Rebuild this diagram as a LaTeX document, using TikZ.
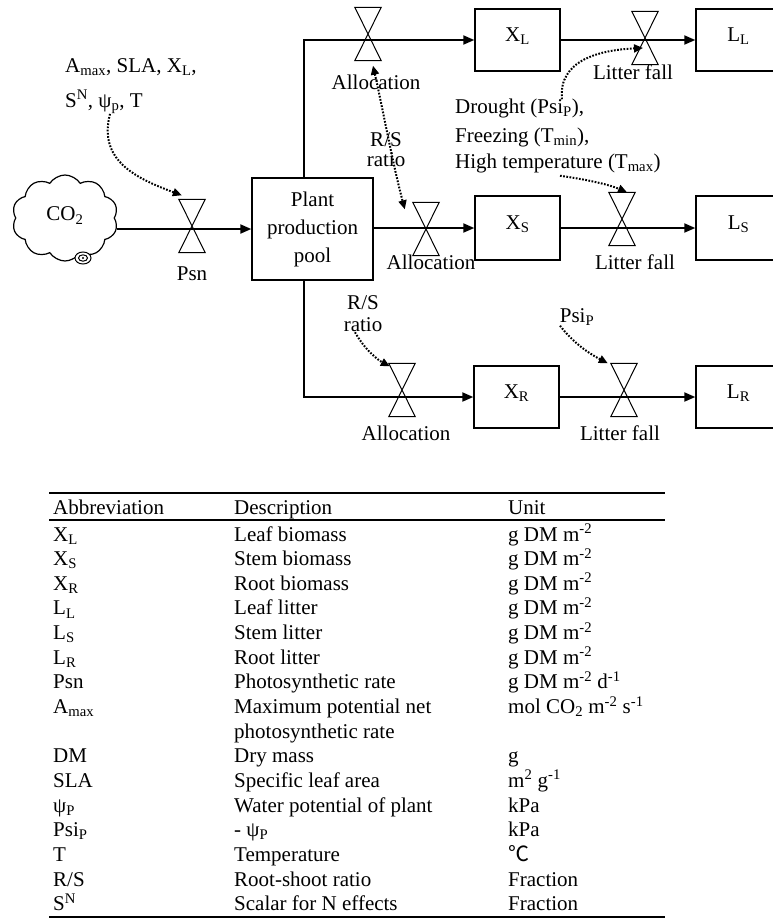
\documentclass[tikz,border=0pt]{standalone}
\usepackage{fontspec}
\setmainfont{Liberation Serif}
\newfontfamily\cjkfont{Noto Sans CJK SC}
\usetikzlibrary{arrows.meta,shapes.symbols,calc}
\begin{document}
\begin{tikzpicture}[x=1pt,y=-1pt,
  every node/.style={font=\fontsize{21}{24.65}\selectfont, inner sep=0pt},
  box/.style={draw, line width=1.4pt, minimum width=85pt, minimum height=62pt, text height=14pt, text depth=11pt},
  valvebox/.style={minimum width=26pt, minimum height=53pt},
  valveline/.style={line width=1pt},
  flow/.style={line width=2pt, -{Triangle[length=11pt,width=9pt]}},
  infl/.style={line width=2pt, dash pattern=on 1.7pt off 1.5pt, -{Triangle[length=9pt,width=8pt]}},
  thickrule/.style={line width=2.4pt},
  thinrule/.style={line width=1.4pt},
]
\useasboundingbox (0,0) rectangle (772,921);

% ---------- cloud ----------
\node[cloud, draw, line width=1.2pt, cloud puffs=10, cloud puff arc=115, aspect=1.25,
      minimum width=106pt, minimum height=86pt, text depth=8pt] (cloud) at (65,218) {CO\textsubscript{2}};
\coordinate (sp) at (83,258);
\filldraw[line width=1pt, fill=white] (sp) ellipse [x radius=8, y radius=6];
\draw[line width=1pt] (sp) ellipse [x radius=4.5, y radius=3.2];
\fill (sp) circle [radius=1.2];

% ---------- boxes ----------
\node[draw, line width=1.4pt, minimum width=121pt, minimum height=102pt, align=center,
      font=\fontsize{21}{28}\selectfont] (pool) at (312.5,229) {Plant\\production\\pool};
\node[box] (XL) at (517.5,40) {X\textsubscript{L}};
\node[box] (LL) at (738.5,40) {L\textsubscript{L}};
\node[box, minimum height=64pt] (XS) at (517.5,228) {X\textsubscript{S}};
\node[box, minimum height=64pt] (LS) at (738.5,228) {L\textsubscript{S}};
\node[box] (XR) at (516.5,397) {X\textsubscript{R}};
\node[box] (LR) at (738.5,397) {L\textsubscript{R}};

\coordinate (tl) at (304,40);
\coordinate (bl) at (304,397);

% ---------- flows ----------
\draw[flow] (cloud.-12) -- (pool.west |- cloud.-12);
\draw[flow] (pool.north -| tl) -- (tl) -- (XL.west);
\draw[flow] (pool.east |- XS.west) -- (XS.west);
\draw[flow] (pool.south -| bl) -- (bl) -- (XR.west);
\draw[flow] (XL.east) -- (LL.west);
\draw[flow] (XS.east) -- (LS.west);
\draw[flow] (XR.east) -- (LR.west);

% ---------- valves ----------
\node[valvebox] (vPsn) at (192,226) {};
\node[valvebox] (vAL) at (368,34) {};
\node[valvebox] (vLL) at (645,38) {};
\node[valvebox] (vAS) at (426,229) {};
\node[valvebox] (vLS) at (622,219) {};
\node[valvebox] (vAR) at (402,390) {};
\node[valvebox] (vLR) at (624,390) {};
\foreach \v in {vPsn,vAL,vLL,vAS,vLS,vAR,vLR}
  \draw[valveline] (\v.north west) -- (\v.north east) -- (\v.south west) -- (\v.south east) -- cycle;

% ---------- labels ----------
\node (lPsn) at (192,274) {Psn};
\node (lAL) at (376,82) {Allocation};
\node (lLL) at (633,72) {Litter fall};
\node (lAS) at (431,262) {Allocation};
\node (lLS) at (635,262) {Litter fall};
\node (lAR) at (406,433) {Allocation};
\node (lLR) at (620,433) {Litter fall};

\node[anchor=west] (amax) at (65,67) {A\textsubscript{max}, SLA, X\textsubscript{L},};
\node[anchor=west] (sn) at (65,102) {S\textsuperscript{N}, ψ\textsubscript{p}, T};

\node[align=center, font=\fontsize{21}{20}\selectfont] (rs1) at (386,150) {R/S\\ratio};
\node[align=center, font=\fontsize{21}{22}\selectfont] (rs2) at (363,314) {R/S\\ratio};

\node[anchor=west] (dr) at (455,108) {Drought (Psi\textsubscript{P}),};
\node[anchor=west] (fr) at (455,137) {Freezing (T\textsubscript{min}),};
\node[anchor=west] (ht) at (455,163) {High temperature (T\textsubscript{max})};
\node (psir) at (577,317) {Psi\textsubscript{P}};

% ---------- influences ----------
\draw[infl] ([xshift=6pt]sn.south) .. controls (98,160) and (135,178) .. ([shift={(3,-4)}]vPsn.north west);
\draw[infl, {Triangle[length=9pt,width=8pt]}-{Triangle[length=9pt,width=8pt]}]
  ([shift={(5,5)}]vAL.south) .. controls (383,110) and (393,165) .. ([shift={(-8,7)}]vAS.north west);
\draw[infl] ([shift={(107,1)}]dr.north west) .. controls (558,60) and (600,50) .. ([shift={(-2,10)}]vLL.center);
\draw[infl] ([shift={(105,3)}]ht.south west) .. controls (590,180) and (610,185) .. ([shift={(5,0)}]vLS.north);
\draw[infl] ([xshift=-8pt]rs2.south) .. controls (365,350) and (378,360) .. ([shift={(1,3)}]vAR.north west);
\draw[infl] ([xshift=-17pt]psir.south) .. controls (575,345) and (592,355) .. ([shift={(-3,0)}]vLR.north west);

% ---------- table ----------
\coordinate (tTL) at (49,493);
\coordinate (tTR) at (665,493);
\coordinate (tHL) at (49,520);
\coordinate (tHR) at (665,520);
\coordinate (tBL) at (49,917);
\coordinate (tBR) at (665,917);
\draw[thickrule] (tTL) -- (tTR);
\draw[thinrule] (tHL) -- (tHR);
\draw[thinrule] (tBL) -- (tBR);

\node[anchor=base west] (hAb) at (53,514) {Abbreviation};
\node[anchor=base west] (hDe) at (234,514) {Description};
\node[anchor=base west] (hUn) at (508,514) {Unit};

\foreach \r/\t in {0/X\textsubscript{L},1/X\textsubscript{S},2/X\textsubscript{R},3/L\textsubscript{L},
  4/L\textsubscript{S},5/L\textsubscript{R},6/Psn,7/A\textsubscript{max},9/DM,10/SLA,
  11/ψ\textsubscript{P},12/Psi\textsubscript{P},13/T,14/{R/S},15/S\textsuperscript{N}}
  \node[anchor=base west] (ab\r) at (53,{541+24.65*\r}) {\t};

\foreach \r/\t in {0/Leaf biomass,1/Stem biomass,2/Root biomass,3/Leaf litter,4/Stem litter,
  5/Root litter,6/Photosynthetic rate,7/Maximum potential net,8/photosynthetic rate,
  9/Dry mass,10/Specific leaf area,11/Water potential of plant,12/- ψ\textsubscript{P},
  13/Temperature,14/Root-shoot ratio,15/Scalar for N effects}
  \node[anchor=base west] (de\r) at (234,{541+24.65*\r}) {\t};

\foreach \r/\t in {0/g DM m\textsuperscript{-2},1/g DM m\textsuperscript{-2},2/g DM m\textsuperscript{-2},
  3/g DM m\textsuperscript{-2},4/g DM m\textsuperscript{-2},5/g DM m\textsuperscript{-2},
  6/g DM m\textsuperscript{-2} d\textsuperscript{-1},
  7/mol CO\textsubscript{2} m\textsuperscript{-2} s\textsuperscript{-1},
  9/g,10/m\textsuperscript{2} g\textsuperscript{-1},11/kPa,12/kPa,13/{\cjkfont ℃},14/Fraction,15/Fraction}
  \node[anchor=base west] (un\r) at (508,{541+24.65*\r}) {\t};
\end{tikzpicture}
\end{document}
